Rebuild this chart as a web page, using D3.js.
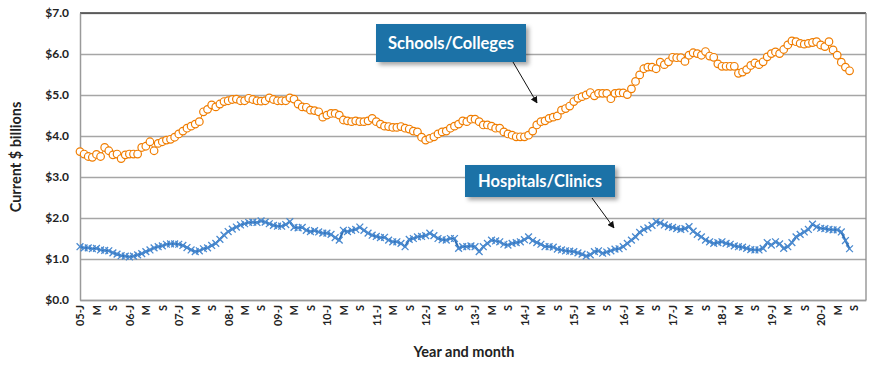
<!DOCTYPE html>
<html>
<head>
<meta charset="utf-8">
<script src="https://cdn.jsdelivr.net/npm/d3@7"></script>
<style>
  body { margin: 0; background: #fff; }
  svg text { font-family: "Century Gothic", Lato, "DejaVu Sans", sans-serif; font-weight: bold; fill: #222; }
</style>
</head>
<body>
<svg id="chart" width="870" height="367"></svg>
<script>
// monthly categories, Jan 2005 .. Dec 2020 (axis runs to Dec 2020, data ends Aug 2020)
var years = d3.range(2005, 2021);
var monthLetters = ["J", "F", "M", "A", "M", "J", "J", "A", "S", "O", "N", "D"];
var categories = [];
years.forEach(function(y) {
  monthLetters.forEach(function(m, i) { categories.push({ year: y, month: i }); });
});

// Schools/Colleges, $ billions
var schools = [
  3.62, 3.56, 3.50, 3.48, 3.55, 3.50, 3.72, 3.64, 3.54, 3.56, 3.45, 3.54,
  3.56, 3.56, 3.56, 3.72, 3.75, 3.86, 3.64, 3.82, 3.86, 3.90, 3.92, 3.97,
  4.05, 4.12, 4.19, 4.24, 4.29, 4.35, 4.59, 4.65, 4.76, 4.71, 4.78, 4.84,
  4.86, 4.89, 4.90, 4.86, 4.86, 4.92, 4.89, 4.86, 4.85, 4.86, 4.93, 4.89,
  4.86, 4.86, 4.86, 4.93, 4.90, 4.78, 4.71, 4.70, 4.63, 4.62, 4.59, 4.46,
  4.51, 4.55, 4.55, 4.51, 4.39, 4.37, 4.35, 4.37, 4.35, 4.35, 4.37, 4.43,
  4.35, 4.29, 4.24, 4.23, 4.21, 4.21, 4.23, 4.19, 4.17, 4.12, 4.10, 3.97,
  3.90, 3.94, 3.98, 4.05, 4.10, 4.12, 4.19, 4.24, 4.29, 4.37, 4.35, 4.41,
  4.41, 4.35, 4.27, 4.27, 4.24, 4.19, 4.19, 4.10, 4.05, 4.02, 3.98, 3.98,
  3.98, 4.02, 4.12, 4.27, 4.35, 4.37, 4.43, 4.46, 4.49, 4.63, 4.67, 4.73,
  4.84, 4.92, 4.96, 5.00, 5.06, 4.98, 5.04, 5.04, 5.04, 4.91, 5.04, 5.05,
  5.05, 5.01, 5.15, 5.33, 5.49, 5.64, 5.68, 5.68, 5.64, 5.80, 5.74, 5.81,
  5.92, 5.91, 5.91, 5.82, 5.97, 6.03, 6.01, 5.97, 6.06, 5.95, 5.92, 5.76,
  5.70, 5.70, 5.70, 5.70, 5.53, 5.56, 5.62, 5.72, 5.78, 5.74, 5.81, 5.93,
  6.01, 6.05, 6.01, 6.11, 6.22, 6.32, 6.30, 6.26, 6.24, 6.26, 6.28, 6.30,
  6.22, 6.18, 6.30, 6.10, 5.97, 5.80, 5.68, 5.59
];

// Hospitals/Clinics, $ billions
var hospitals = [
  1.30, 1.27, 1.27, 1.25, 1.26, 1.22, 1.21, 1.20, 1.15, 1.12, 1.08, 1.07,
  1.05, 1.07, 1.10, 1.13, 1.18, 1.22, 1.27, 1.30, 1.32, 1.36, 1.37, 1.37,
  1.36, 1.33, 1.28, 1.22, 1.18, 1.20, 1.25, 1.27, 1.33, 1.38, 1.48, 1.58,
  1.67, 1.73, 1.78, 1.83, 1.86, 1.89, 1.90, 1.89, 1.93, 1.90, 1.86, 1.82,
  1.80, 1.80, 1.84, 1.91, 1.77, 1.76, 1.77, 1.70, 1.67, 1.69, 1.66, 1.63,
  1.63, 1.60, 1.52, 1.46, 1.70, 1.67, 1.70, 1.72, 1.78, 1.70, 1.63, 1.58,
  1.55, 1.52, 1.53, 1.46, 1.42, 1.42, 1.38, 1.30, 1.48, 1.50, 1.54, 1.55,
  1.57, 1.63, 1.57, 1.50, 1.47, 1.46, 1.50, 1.50, 1.26, 1.30, 1.30, 1.32,
  1.30, 1.18, 1.30, 1.38, 1.46, 1.44, 1.42, 1.36, 1.34, 1.38, 1.40, 1.42,
  1.47, 1.54, 1.45, 1.40, 1.36, 1.30, 1.30, 1.29, 1.24, 1.22, 1.20, 1.19,
  1.18, 1.15, 1.12, 1.07, 1.10, 1.18, 1.20, 1.14, 1.17, 1.20, 1.24, 1.25,
  1.30, 1.38, 1.46, 1.54, 1.65, 1.72, 1.76, 1.82, 1.91, 1.88, 1.83, 1.79,
  1.77, 1.74, 1.72, 1.74, 1.79, 1.68, 1.60, 1.54, 1.46, 1.42, 1.38, 1.40,
  1.42, 1.38, 1.36, 1.32, 1.30, 1.29, 1.26, 1.23, 1.22, 1.22, 1.26, 1.40,
  1.34, 1.42, 1.37, 1.26, 1.30, 1.40, 1.54, 1.60, 1.66, 1.72, 1.85, 1.78,
  1.75, 1.74, 1.72, 1.71, 1.71, 1.66, 1.45, 1.25
];

var yTicks = [0, 1, 2, 3, 4, 5, 6, 7];

// tick label: "05-J" for January, "M" for May, "S" for September
function tickLabel(i) {
  var c = categories[i];
  if (c.month === 0) return String(c.year).slice(2) + "-J";
  return monthLetters[c.month];
}

var svg = d3.select("#chart");
var plotLeft = 80, plotRight = 866, plotTop = 13, plotBottom = 300;

var x = d3.scalePoint()
  .domain(d3.range(categories.length))
  .range([plotLeft, plotRight]);

var y = d3.scaleLinear()
  .domain([0, 7])
  .range([plotBottom, plotTop]);

// gridlines
svg.append("g")
  .attr("transform", "translate(" + plotLeft + ",0)")
  .call(d3.axisLeft(y).tickValues(yTicks).tickSize(-(plotRight - plotLeft)).tickFormat(""))
  .call(function(g) {
    g.select(".domain").remove();
    g.selectAll("line").attr("stroke", "#a6a6a6").attr("stroke-width", 1.3);
  });

// plot frame: dark top, grey right
svg.append("line").attr("x1", plotLeft).attr("x2", plotRight).attr("y1", plotTop).attr("y2", plotTop)
  .attr("stroke", "#404040").attr("stroke-width", 1.5);
svg.append("line").attr("x1", plotRight).attr("x2", plotRight).attr("y1", plotTop).attr("y2", plotBottom)
  .attr("stroke", "#8c8c8c").attr("stroke-width", 1.3);

// y axis
svg.append("g")
  .attr("transform", "translate(" + plotLeft + ",0)")
  .call(d3.axisLeft(y).tickValues(yTicks).tickSize(0).tickPadding(11)
    .tickFormat(function(d) { return "$" + d.toFixed(1); }))
  .call(function(g) {
    g.select(".domain").attr("stroke", "#9a9a9a").attr("stroke-width", 1.5);
    g.selectAll("text").style("font-size", "12px").attr("fill", "#222");
  });

// x axis
var xTickVals = d3.range(0, categories.length, 4);
svg.append("g")
  .attr("transform", "translate(0," + plotBottom + ")")
  .call(d3.axisBottom(x).tickValues(xTickVals).tickSize(0).tickFormat(tickLabel))
  .call(function(g) {
    g.select(".domain").attr("stroke", "#9a9a9a").attr("stroke-width", 1.5);
    g.selectAll("text")
      .style("font-size", "11px")
      .attr("fill", "#222")
      .attr("text-anchor", "end")
      .attr("transform", "rotate(-90)")
      .attr("x", -5)
      .attr("y", 0)
      .attr("dy", "0.35em");
  });

// axis titles
svg.append("text")
  .attr("transform", "translate(21,157) rotate(-90)")
  .attr("text-anchor", "middle")
  .style("font-size", "14.5px")
  .text("Current $ billions");

svg.append("text")
  .attr("x", 464).attr("y", 357)
  .attr("text-anchor", "middle")
  .style("font-size", "14.5px")
  .text("Year and month");

// hospitals line with x markers
var line = d3.line()
  .x(function(d, i) { return x(i); })
  .y(function(d) { return y(d); });

svg.append("path")
  .datum(hospitals)
  .attr("fill", "none")
  .attr("stroke", "#2f6fb5")
  .attr("stroke-width", 2.2)
  .attr("d", line);

var s = 3.4;
svg.append("g").selectAll("path")
  .data(hospitals)
  .enter().append("path")
    .attr("transform", function(d, i) { return "translate(" + x(i) + "," + y(d) + ")"; })
    .attr("d", "M" + (-s) + "," + (-s) + "L" + s + "," + s + "M" + (-s) + "," + s + "L" + s + "," + (-s))
    .attr("stroke", "#4a8ad0")
    .attr("stroke-width", 1.3)
    .attr("fill", "none");

// schools line with open circles
svg.append("path")
  .datum(schools)
  .attr("fill", "none")
  .attr("stroke", "#f07d00")
  .attr("stroke-width", 1)
  .attr("d", line);

svg.append("g").selectAll("circle")
  .data(schools)
  .enter().append("circle")
    .attr("cx", function(d, i) { return x(i); })
    .attr("cy", function(d) { return y(d); })
    .attr("r", 3.8)
    .attr("fill", "#fff")
    .attr("stroke", "#f07d00")
    .attr("stroke-width", 1.2);

// callouts
var defs = svg.append("defs");
defs.append("marker")
  .attr("id", "arrow")
  .attr("viewBox", "0 0 10 10")
  .attr("refX", 9).attr("refY", 5)
  .attr("markerWidth", 7).attr("markerHeight", 7)
  .attr("orient", "auto")
  .append("path").attr("d", "M0,0L10,5L0,10z").attr("fill", "#111");

var filt = defs.append("filter").attr("id", "shadow").attr("x", "-10%").attr("y", "-10%")
  .attr("width", "130%").attr("height", "150%");
filt.append("feDropShadow").attr("dx", 3).attr("dy", 3).attr("stdDeviation", 2)
  .attr("flood-color", "#000").attr("flood-opacity", 0.35);

var callouts = [
  { label: "Schools/Colleges", bx: 376, by: 24, bw: 150, bh: 38, ax1: 513, ay1: 62, ax2: 537, ay2: 103 },
  { label: "Hospitals/Clinics", bx: 465, by: 165, bw: 150, bh: 32, ax1: 592, ay1: 198, ax2: 614, ay2: 228 }
];

callouts.forEach(function(c) {
  svg.append("line")
    .attr("x1", c.ax1).attr("y1", c.ay1).attr("x2", c.ax2).attr("y2", c.ay2)
    .attr("stroke", "#111").attr("stroke-width", 1)
    .attr("marker-end", "url(#arrow)");
  svg.append("rect")
    .attr("x", c.bx).attr("y", c.by).attr("width", c.bw).attr("height", c.bh)
    .attr("fill", "#1a72a7")
    .attr("filter", "url(#shadow)");
  svg.append("text")
    .attr("x", c.bx + c.bw / 2).attr("y", c.by + c.bh / 2)
    .attr("dy", "0.36em")
    .attr("text-anchor", "middle")
    .style("font-size", "16.5px")
    .style("fill", "#fff")
    .text(c.label);
});
</script>
</body>
</html>
